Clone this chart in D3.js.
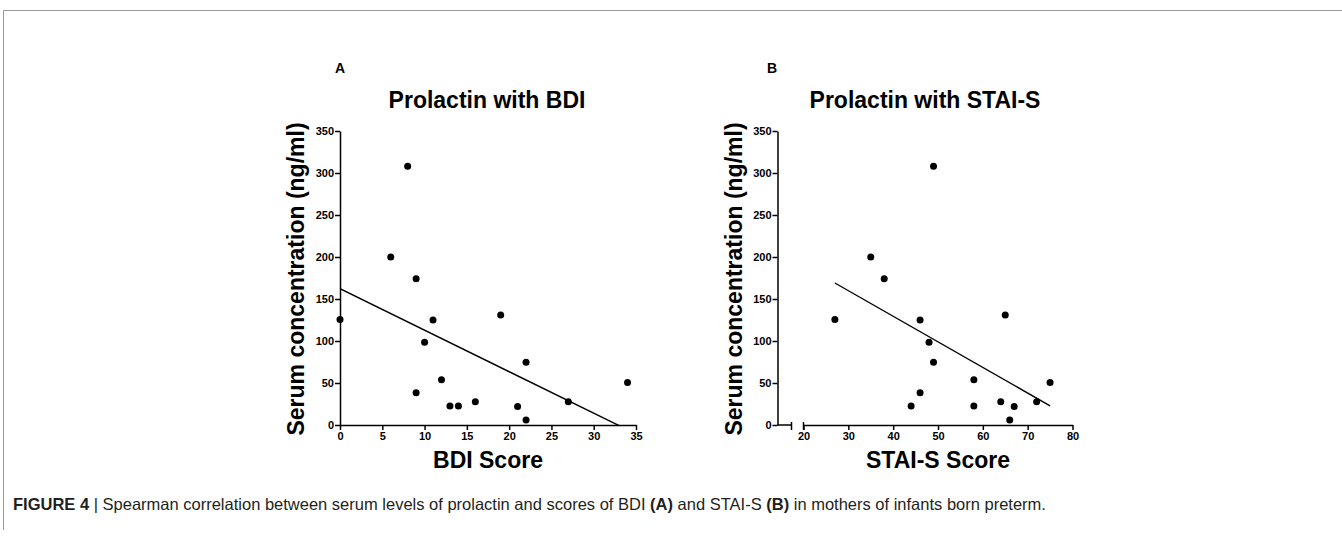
<!DOCTYPE html>
<html>
<head>
<meta charset="utf-8">
<script src="https://cdn.jsdelivr.net/npm/d3@7"></script>
<style>
  body { margin: 0; background: #fff; }
  svg { display: block; font-family: "Liberation Sans", Arial, sans-serif; }
</style>
</head>
<body>
<div id="chart"></div>
<script>
// serum prolactin (ng/ml), same women in both panels
const prolactin = [125.5, 308, 200, 174, 125, 98.5, 54, 38.5, 22.6, 22.6, 27.8, 131, 74.7, 21.9, 6, 27.8, 50.5];
const bdiScore  = [0, 8, 6, 9, 11, 10, 12, 9, 13, 14, 16, 19, 22, 21, 22, 27, 34];
const staiScore = [27, 49, 35, 38, 46, 48, 58, 46, 44, 58, 64, 65, 49, 67, 66, 72, 75];

const yTicks = [0, 50, 100, 150, 200, 250, 300, 350];
const bdiTicks = [0, 5, 10, 15, 20, 25, 30, 35];
const staiTicks = [20, 30, 40, 50, 60, 70, 80];

const width = 1342, height = 537;
const svg = d3.select("#chart").append("svg")
    .attr("width", width)
    .attr("height", height);

// figure frame (grey rule on top and left)
svg.append("path")
    .attr("d", "M3.5,530 V10.5 H1342")
    .attr("fill", "none")
    .attr("stroke", "#9a9a9a")
    .attr("stroke-width", 1);

// least squares fit
function linFit(xs, ys) {
    const mx = d3.mean(xs), my = d3.mean(ys);
    let sxy = 0, sxx = 0;
    xs.forEach((x, i) => { sxy += (x - mx) * (ys[i] - my); sxx += (x - mx) * (x - mx); });
    const slope = sxy / sxx;
    return { slope: slope, intercept: my - slope * mx };
}

const plotTop = 131, plotBottom = 425;
const y = d3.scaleLinear().domain([0, 350]).range([plotBottom, plotTop]);

function drawPanel(opt) {
    const g = svg.append("g");
    const x = opt.x;
    const xs = opt.xs;

    // panel letter
    g.append("text")
        .attr("x", opt.letterX).attr("y", 73)
        .attr("font-size", 14).attr("font-weight", "bold")
        .text(opt.letter);

    // title
    g.append("text")
        .attr("x", opt.titleX).attr("y", 108)
        .attr("text-anchor", "middle")
        .attr("font-size", 23).attr("font-weight", "bold")
        .text(opt.title);

    // y axis
    const yAxis = g.append("g")
        .attr("transform", `translate(${opt.axisX},0)`)
        .call(d3.axisLeft(y).tickValues(yTicks).tickSize(5).tickSizeOuter(0).tickPadding(1));

    // x axis
    const xAxis = g.append("g")
        .attr("transform", `translate(0,${plotBottom})`)
        .call(d3.axisBottom(x).tickValues(opt.xTicks).tickSize(5).tickSizeOuter(0).tickPadding(2));

    [yAxis, xAxis].forEach(a => {
        a.selectAll("path, line").attr("stroke", "#000").attr("stroke-width", 1.5);
        a.selectAll("text").attr("fill", "#000")
            .attr("font-size", 11).attr("font-weight", "bold")
            .attr("font-family", "Liberation Sans, Arial, sans-serif");
    });

    if (opt.broken) {
        // GraphPad style axis break between y axis and first tick
        const breakX = opt.axisX + 14;
        g.append("line")
            .attr("x1", opt.axisX).attr("x2", breakX)
            .attr("y1", plotBottom).attr("y2", plotBottom)
            .attr("stroke", "#000").attr("stroke-width", 1.5);
        [breakX, x(opt.xTicks[0])].forEach(bx => {
            g.append("line")
                .attr("x1", bx).attr("x2", bx)
                .attr("y1", plotBottom - 3).attr("y2", plotBottom + 5)
                .attr("stroke", "#000").attr("stroke-width", 1.5);
        });
    }

    // y label
    g.append("text")
        .attr("transform", `translate(${opt.axisX - 36},${(plotTop + plotBottom) / 2 + 1}) rotate(-90)`)
        .attr("text-anchor", "middle")
        .attr("font-size", 23).attr("font-weight", "bold")
        .text("Serum concentration (ng/ml)");

    // x label
    g.append("text")
        .attr("x", (x.range()[0] + x.range()[1]) / 2).attr("y", 468)
        .attr("text-anchor", "middle")
        .attr("font-size", 23).attr("font-weight", "bold")
        .text(opt.xLabel);

    // regression line, clipped to plot area
    const clipId = "clip" + opt.letter;
    svg.append("clipPath").attr("id", clipId)
        .append("rect")
        .attr("x", opt.axisX).attr("y", plotTop)
        .attr("width", x.range()[1] - opt.axisX).attr("height", plotBottom - plotTop);

    const fit = linFit(xs, prolactin);
    const ext = d3.extent(xs);
    g.append("line")
        .attr("clip-path", `url(#${clipId})`)
        .attr("x1", x(ext[0])).attr("y1", y(fit.intercept + fit.slope * ext[0]))
        .attr("x2", x(ext[1])).attr("y2", y(fit.intercept + fit.slope * ext[1]))
        .attr("stroke", "#000").attr("stroke-width", 1.4);

    // points
    g.selectAll("circle.pt")
        .data(xs.map((v, i) => [v, prolactin[i]]))
        .join("circle")
        .attr("class", "pt")
        .attr("cx", d => x(d[0]))
        .attr("cy", d => y(d[1]))
        .attr("r", 3.5)
        .attr("fill", "#000");
}

drawPanel({
    letter: "A", letterX: 335, title: "Prolactin with BDI", titleX: 487,
    axisX: 340, xs: bdiScore, xTicks: bdiTicks, xLabel: "BDI Score",
    x: d3.scaleLinear().domain([0, 35]).range([340, 636])
});

drawPanel({
    letter: "B", letterX: 767, title: "Prolactin with STAI-S", titleX: 925,
    axisX: 777.5, xs: staiScore, xTicks: staiTicks, xLabel: "STAI-S Score", broken: true,
    x: d3.scaleLinear().domain([20, 80]).range([803.5, 1072.5])
});

// caption
const cap = svg.append("text")
    .attr("x", 13).attr("y", 509.5)
    .attr("font-size", 16.5)
    .attr("fill", "#231f20");
cap.append("tspan").attr("font-weight", "bold").text("FIGURE 4");
cap.append("tspan").text(" | Spearman correlation between serum levels of prolactin and scores of BDI ");
cap.append("tspan").attr("font-weight", "bold").text("(A)");
cap.append("tspan").text(" and STAI-S ");
cap.append("tspan").attr("font-weight", "bold").text("(B)");
cap.append("tspan").text(" in mothers of infants born preterm.");
</script>
</body>
</html>
